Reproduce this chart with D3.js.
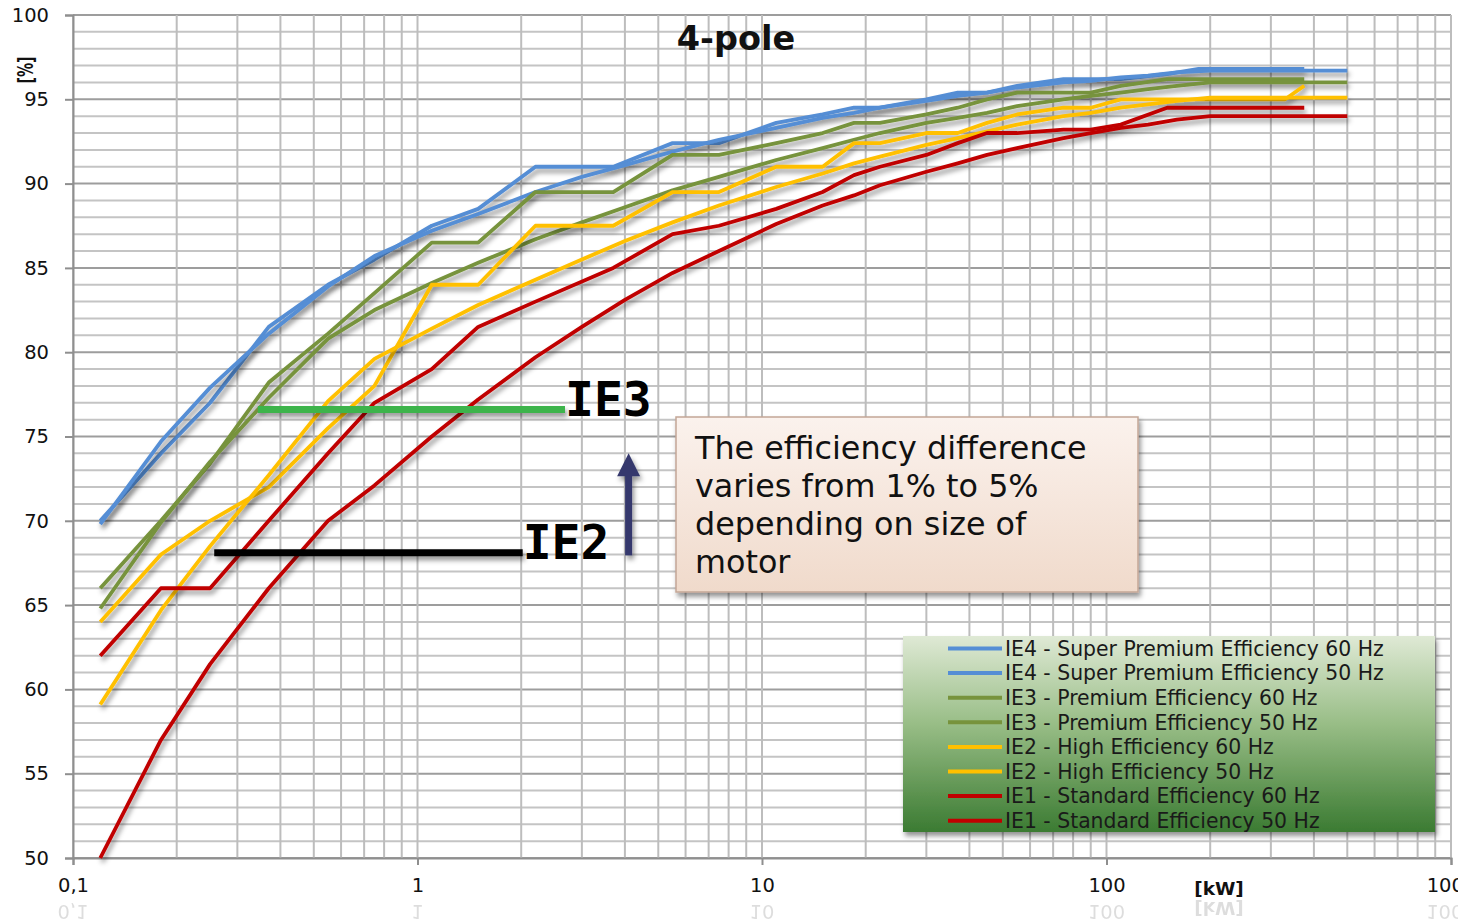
<!DOCTYPE html>
<html lang="en">
<head>
<meta charset="utf-8">
<title>4-pole motor efficiency classes</title>
<script src="https://cdn.jsdelivr.net/npm/d3@7"></script>
<style>
  body { margin: 0; background: #fff; }
  svg { display: block; font-family: "DejaVu Sans", Verdana, sans-serif; }
</style>
</head>
<body>
<script>
// rated output [kW] for the 50 Hz and 60 Hz tables
var kw50 = [0.12, 0.18, 0.25, 0.37, 0.55, 0.75, 1.1, 1.5, 2.2, 3, 4, 5.5, 7.5, 11, 15, 18.5, 22, 30, 37, 45, 55, 75, 90, 110, 132, 160, 200, 500];
var kw60 = [0.12, 0.18, 0.25, 0.37, 0.55, 0.75, 1.1, 1.5, 2.2, 3.7, 5.5, 7.5, 11, 15, 18.5, 22, 30, 37, 45, 55, 75, 90, 110, 150, 185, 220, 330, 375];

// efficiency [%], 4-pole
var ie4_60 = [70.0, 74.0, 77.0, 81.5, 84.0, 85.5, 87.5, 88.5, 91.0, 91.0, 92.4, 92.4, 93.6, 94.1, 94.5, 94.5, 95.0, 95.4, 95.4, 95.8, 96.2, 96.2, 96.2, 96.5, 96.8, 96.8, 96.8, 96.8];
var ie4_50 = [69.8, 74.7, 77.9, 81.1, 83.9, 85.7, 87.2, 88.2, 89.5, 90.4, 91.1, 91.9, 92.6, 93.3, 93.9, 94.2, 94.5, 94.9, 95.2, 95.4, 95.7, 96.0, 96.1, 96.3, 96.4, 96.6, 96.7, 96.7];
var ie3_60 = [66.0, 70.0, 73.4, 78.2, 81.1, 83.5, 86.5, 86.5, 89.5, 89.5, 91.7, 91.7, 92.4, 93.0, 93.6, 93.6, 94.1, 94.5, 95.0, 95.4, 95.4, 95.4, 95.8, 96.2, 96.2, 96.2, 96.2, 96.2];
var ie3_50 = [64.8, 69.9, 73.5, 77.3, 80.8, 82.5, 84.1, 85.3, 86.7, 87.7, 88.6, 89.6, 90.4, 91.4, 92.1, 92.6, 93.0, 93.6, 93.9, 94.2, 94.6, 95.0, 95.2, 95.4, 95.6, 95.8, 96.0, 96.0];
var ie2_60 = [64.0, 68.0, 70.0, 72.0, 75.5, 78.0, 84.0, 84.0, 87.5, 87.5, 89.5, 89.5, 91.0, 91.0, 92.4, 92.4, 93.0, 93.0, 93.6, 94.1, 94.5, 94.5, 95.0, 95.0, 95.0, 95.0, 95.0, 95.8];
var ie2_50 = [59.1, 64.7, 68.5, 72.7, 77.1, 79.6, 81.4, 82.8, 84.3, 85.5, 86.6, 87.7, 88.7, 89.8, 90.6, 91.2, 91.6, 92.3, 92.7, 93.1, 93.5, 94.0, 94.2, 94.5, 94.7, 94.9, 95.1, 95.1];
var ie1_60 = [62.0, 66.0, 66.0, 70.0, 74.0, 77.0, 79.0, 81.5, 83.0, 85.0, 87.0, 87.5, 88.5, 89.5, 90.5, 91.0, 91.7, 92.4, 93.0, 93.0, 93.2, 93.2, 93.5, 94.5, 94.5, 94.5, 94.5, 94.5];
var ie1_50 = [50.0, 57.0, 61.5, 66.0, 70.0, 72.1, 75.0, 77.2, 79.7, 81.5, 83.1, 84.7, 86.0, 87.6, 88.7, 89.3, 89.9, 90.7, 91.2, 91.7, 92.1, 92.7, 93.0, 93.3, 93.5, 93.8, 94.0, 94.0];

var seriesNames = ["IE4 - Super Premium Efficiency 60 Hz", "IE4 - Super Premium Efficiency 50 Hz",
                   "IE3 - Premium Efficiency 60 Hz", "IE3 - Premium Efficiency 50 Hz",
                   "IE2 - High Efficiency 60 Hz", "IE2 - High Efficiency 50 Hz",
                   "IE1 - Standard Efficiency 60 Hz", "IE1 - Standard Efficiency 50 Hz"];
var seriesColors = ["#558ed5", "#558ed5", "#77933c", "#77933c", "#ffc000", "#ffc000", "#c00000", "#c00000"];

var yTicks = [50, 55, 60, 65, 70, 75, 80, 85, 90, 95, 100];
var xTicks = [0.1, 1, 10, 100, 1000];
var xTickLabels = ["0,1", "1", "10", "100", "1000"];

// annotation: IE2 / IE3 reference levels and arrow
var ie3Mark = {kw: [0.344, 2.68], eff: 76.6};
var ie2Mark = {kw: [0.257, 2.02], eff: 68.1};
var arrowMark = {kw: 4.1, from: 67.95, to: 74.0};
var boxLines = ["The efficiency difference", "varies from 1% to 5%", "depending on size of", "motor"];

var series = [
  {name: seriesNames[0], kw: kw60, eff: ie4_60},
  {name: seriesNames[1], kw: kw50, eff: ie4_50},
  {name: seriesNames[2], kw: kw60, eff: ie3_60},
  {name: seriesNames[3], kw: kw50, eff: ie3_50},
  {name: seriesNames[4], kw: kw60, eff: ie2_60},
  {name: seriesNames[5], kw: kw50, eff: ie2_50},
  {name: seriesNames[6], kw: kw60, eff: ie1_60},
  {name: seriesNames[7], kw: kw50, eff: ie1_50}
];

var w = 1458, h = 923;
var svg = d3.select("body").append("svg").attr("width", w).attr("height", h);

var x = d3.scaleLog().domain([0.1, 1000]).range([73, 1451]);
var y = d3.scaleLinear().domain([50, 100]).range([858, 15]);

var defs = svg.append("defs");
var sh = defs.append("filter").attr("id", "shadow")
  .attr("filterUnits", "userSpaceOnUse").attr("x", 0).attr("y", 0).attr("width", w).attr("height", h);
sh.append("feDropShadow").attr("dx", 2).attr("dy", 4).attr("stdDeviation", 2.4)
  .attr("flood-color", "#000").attr("flood-opacity", 0.42);

var lg = defs.append("linearGradient").attr("id", "legendFill").attr("x1", 0).attr("y1", 0).attr("x2", 0).attr("y2", 1);
lg.append("stop").attr("offset", "0%").attr("stop-color", "#dfe9d5");
lg.append("stop").attr("offset", "45%").attr("stop-color", "#98bd86");
lg.append("stop").attr("offset", "100%").attr("stop-color", "#3b7b32");

var bg = defs.append("linearGradient").attr("id", "boxFill").attr("x1", 0).attr("y1", 0).attr("x2", 0).attr("y2", 1);
bg.append("stop").attr("offset", "0%").attr("stop-color", "#fbf2ed");
bg.append("stop").attr("offset", "100%").attr("stop-color", "#f0dacb");

// grid
var minorX = [];
[0.1, 1, 10, 100].forEach(function(d) {
  for (var k = 1; k <= 9; k++) minorX.push(d * k);
});
minorX.push(1000);

svg.append("g").selectAll("line").data(d3.range(50, 101)).enter().append("line")
  .attr("x1", x(0.1)).attr("x2", x(1000))
  .attr("y1", function(d) { return y(d); }).attr("y2", function(d) { return y(d); })
  .attr("stroke", function(d) { return d % 5 == 0 ? "#9d9d9d" : "#c4c4c4"; })
  .attr("stroke-width", 2);

svg.append("g").selectAll("line").data(minorX).enter().append("line")
  .attr("x1", function(d) { return x(d); }).attr("x2", function(d) { return x(d); })
  .attr("y1", y(100)).attr("y2", y(50))
  .attr("stroke", "#bdbdbd").attr("stroke-width", 2);

// axes
var yAxis = svg.append("g").attr("transform", "translate(" + x(0.1) + ",0)")
  .call(d3.axisLeft(y).tickValues(yTicks).tickSize(8).tickPadding(16).tickFormat(d3.format("d")));
var xAxis = svg.append("g").attr("transform", "translate(0," + y(50) + ")")
  .call(d3.axisBottom(x).tickValues(xTicks).tickSize(7).tickPadding(13)
    .tickFormat(function(d, i) { return xTickLabels[i]; }));
[yAxis, xAxis].forEach(function(a) {
  a.select(".domain").attr("stroke", "#8f8f8f").attr("stroke-width", 2);
  a.selectAll(".tick line").attr("stroke", "#8f8f8f").attr("stroke-width", 2);
  a.selectAll("text").attr("font-family", "DejaVu Sans").attr("font-size", "19.5px").attr("fill", "#111");
});

// faint mirrored labels below the axis
var refl = svg.append("g").attr("transform", "translate(0," + (2 * 898.5) + ") scale(1,-1)")
  .attr("opacity", 0.16);
refl.selectAll("text").data(xTicks).enter().append("text")
  .attr("x", function(d) { return x(d); }).attr("y", 892)
  .attr("text-anchor", "middle").attr("font-size", "19.5px").attr("fill", "#333")
  .text(function(d, i) { return xTickLabels[i]; });
refl.append("text").attr("x", 1219).attr("y", 895).attr("text-anchor", "middle")
  .attr("font-size", "18.5px").attr("font-weight", "bold").attr("fill", "#333").text("[kW]");

// axis titles
svg.append("text").attr("x", 1219).attr("y", 895).attr("text-anchor", "middle")
  .attr("font-size", "18.5px").attr("font-weight", "bold").attr("fill", "#111").text("[kW]");
svg.append("text").attr("transform", "translate(33,70) rotate(-90)").attr("text-anchor", "middle")
  .attr("font-size", "22px").attr("font-weight", "bold").attr("fill", "#111")
  .attr("textLength", 27).attr("lengthAdjust", "spacingAndGlyphs").text("[%]");

svg.append("text").attr("x", 736).attr("y", 50).attr("text-anchor", "middle")
  .attr("font-size", "33.5px").attr("font-weight", "bold").attr("fill", "#111").text("4-pole");

// series lines
var line = d3.line()
  .x(function(d) { return x(d[0]); })
  .y(function(d) { return y(d[1]); });

svg.append("g").selectAll("path").data(series).enter().append("path")
  .attr("d", function(s) { return line(s.kw.map(function(k, i) { return [k, s.eff[i]]; })); })
  .attr("fill", "none")
  .attr("stroke", function(s, i) { return seriesColors[i]; })
  .attr("stroke-width", 3.8)
  .attr("stroke-linejoin", "round")
  .attr("filter", "url(#shadow)");

// IE3 / IE2 markers
var ann = svg.append("g").attr("filter", "url(#shadow)");
ann.append("line").attr("x1", x(ie3Mark.kw[0])).attr("x2", x(ie3Mark.kw[1]))
  .attr("y1", y(ie3Mark.eff)).attr("y2", y(ie3Mark.eff))
  .attr("stroke", "#3cb44b").attr("stroke-width", 7);
ann.append("line").attr("x1", x(ie2Mark.kw[0])).attr("x2", x(ie2Mark.kw[1]))
  .attr("y1", y(ie2Mark.eff)).attr("y2", y(ie2Mark.eff))
  .attr("stroke", "#000").attr("stroke-width", 7);

var ax = x(arrowMark.kw);
var tipY = y(arrowMark.to);
ann.append("line").attr("x1", ax).attr("x2", ax)
  .attr("y1", y(arrowMark.from)).attr("y2", tipY + 20)
  .attr("stroke", "#35386d").attr("stroke-width", 7);
ann.append("path")
  .attr("d", "M" + ax + "," + tipY + " L" + (ax + 11.5) + "," + (tipY + 23) + " L" + (ax - 11.5) + "," + (tipY + 23) + " Z")
  .attr("fill", "#35386d");

svg.append("text").attr("x", x(ie3Mark.kw[1])).attr("y", y(ie3Mark.eff) + 6)
  .attr("font-family", "DejaVu Sans Mono").attr("font-size", "48px").attr("font-weight", "bold")
  .attr("fill", "#000").text("IE3");
svg.append("text").attr("x", x(ie2Mark.kw[1])).attr("y", y(ie2Mark.eff) + 6)
  .attr("font-family", "DejaVu Sans Mono").attr("font-size", "48px").attr("font-weight", "bold")
  .attr("fill", "#000").text("IE2");

// explanation box
var box = svg.append("g");
box.append("rect").attr("x", 676).attr("y", 417).attr("width", 462).attr("height", 175)
  .attr("fill", "url(#boxFill)").attr("stroke", "#c4a796").attr("stroke-width", 1.5)
  .attr("filter", "url(#shadow)");
box.selectAll("text").data(boxLines).enter().append("text")
  .attr("x", 695).attr("y", function(d, i) { return 459 + i * 38; })
  .attr("font-size", "31.8px").attr("fill", "#111")
  .text(function(d) { return d; });

// legend
var legend = svg.append("g");
legend.append("rect").attr("x", 903).attr("y", 636).attr("width", 532).attr("height", 196)
  .attr("fill", "url(#legendFill)").attr("filter", "url(#shadow)");
var rows = legend.selectAll("g.row").data(seriesNames).enter().append("g").attr("class", "row")
  .attr("transform", function(d, i) { return "translate(0," + (648.5 + i * 24.6) + ")"; });
rows.append("line").attr("x1", 948).attr("x2", 1002).attr("y1", 0).attr("y2", 0)
  .attr("stroke", function(d, i) { return seriesColors[i]; }).attr("stroke-width", 4);
rows.append("text").attr("x", 1005).attr("y", 0).attr("dy", "0.36em")
  .attr("font-size", "20.4px").attr("fill", "#1a1a1a")
  .text(function(d) { return d; });
</script>
</body>
</html>
